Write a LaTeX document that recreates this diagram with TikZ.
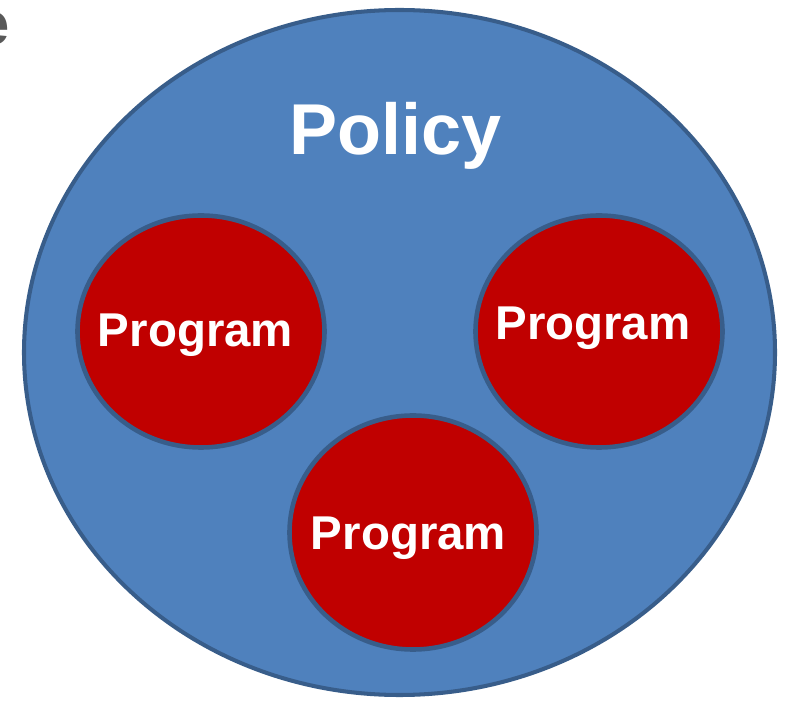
\documentclass[tikz,border=0pt]{standalone}
\usepackage{fontspec}
\setmainfont{Liberation Sans}
\usepackage{xcolor}
\definecolor{policyblue}{HTML}{4F81BD}
\definecolor{rimblue}{HTML}{385D8A}
\definecolor{programred}{HTML}{C00000}
\definecolor{cutgray}{HTML}{595959}
\begin{document}
\begin{tikzpicture}[x=0.02cm, y=-0.02cm]
				\newcommand{\mypolicyfont}[1]{
					\fontsize{41}{48}\selectfont\bfseries{#1}
				}\newcommand{\myprogramfont}[1]{
					\fontsize{27}{32}\selectfont\bfseries{#1}
				}%Page frame
				\useasboundingbox (0,0) rectangle (785,702);
				\clip (0,0) rectangle (785,702);
				%Cut letter at the top left
				\node [anchor=base east, inner sep=0, text=cutgray] (cut) at (10,44.5) {\fontsize{34}{40}\selectfont\bfseries e};
				%Outer ellipse
				\coordinate (centerPolicy) at (399.5,352.5);
				\draw [line width=2.3pt, draw=rimblue, fill=policyblue] (centerPolicy) ellipse [x radius=375.5, y radius=342.5];
				%Inner ellipses
				\coordinate (centerLeft) at (201,331.5);
				\coordinate (centerRight) at (599,331.5);
				\coordinate (centerBottom) at (413,532.5);
				\draw [line width=2.6pt, draw=rimblue, fill=programred] (centerLeft) ellipse [x radius=123.5, y radius=116];
				\draw [line width=2.6pt, draw=rimblue, fill=programred] (centerRight) ellipse [x radius=123.5, y radius=116];
				\draw [line width=2.6pt, draw=rimblue, fill=programred] (centerBottom) ellipse [x radius=123.5, y radius=117];
				%The labels
				\coordinate (w0) at (395.5,155);
				\coordinate (w1) at (195.5,347);
				\coordinate (w2) at (593,340);
				\coordinate (w3) at (408.5,550);
				\node [anchor=base, inner sep=0, text=white] (policy) at (w0) {\mypolicyfont{Policy}};
				\node [anchor=base, inner sep=0, text=white] (programLeft) at (w1) {\myprogramfont{Program}};
				\node [anchor=base, inner sep=0, text=white] (programRight) at (w2) {\myprogramfont{Program}};
				\node [anchor=base, inner sep=0, text=white] (programBottom) at (w3) {\myprogramfont{Program}};
\end{tikzpicture}
\end{document}
